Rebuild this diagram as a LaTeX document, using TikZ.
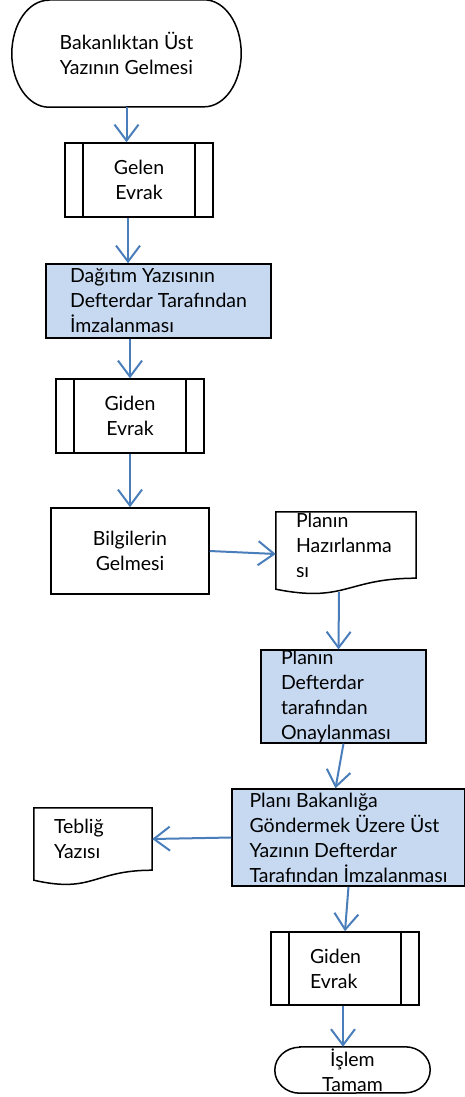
\documentclass[tikz,border=0pt]{standalone}
\usepackage{fontspec}
\setmainfont{Lato}
\usetikzlibrary{arrows.meta, calc}
\usepackage{xcolor}
\definecolor{stepblue}{RGB}{198,217,241}
\definecolor{linkblue}{RGB}{74,126,187}

\begin{document}
\begin{tikzpicture}[x=1pt, y=-1pt,
    every node/.style={font=\fontsize{19.5}{25}\selectfont, inner sep=0pt},
    box/.style={rectangle, draw, line width=1.5pt},
    bluebox/.style={box, fill=stepblue},
    predef/.style={box, path picture={
        \draw[line width=1.5pt]
          ([xshift=18pt]path picture bounding box.north west) -- ([xshift=18pt]path picture bounding box.south west)
          ([xshift=-18pt]path picture bounding box.north east) -- ([xshift=-18pt]path picture bounding box.south east);}},
    outline/.style={rectangle},
    link/.style={draw=linkblue, line width=2pt, -{Straight Barb[length=16pt, width=24pt]}}]
  \useasboundingbox (0,0) rectangle (465,1097);

  % nodes
  \node[outline, minimum width=229pt, minimum height=107pt, align=center] (start) at (126.5,53.5)
    {Bakanlıktan Üst\\Yazının Gelmesi};
  \node[predef, minimum width=148pt, minimum height=74pt, align=center] (gelen) at (139,180)
    {Gelen\\Evrak};
  \node[bluebox, minimum width=225pt, minimum height=74pt, align=left] (dagitim) at (158.5,301)
    {Dağıtım Yazısının\\Defterdar Tarafından\\İmzalanması};
  \node[predef, minimum width=148pt, minimum height=74pt, align=center] (gidenA) at (130,416)
    {Giden\\Evrak};
  \node[box, minimum width=158pt, minimum height=86pt, align=center] (bilgi) at (130,551)
    {Bilgilerin\\Gelmesi};
  \node[outline, minimum width=140pt, minimum height=66pt, text width=100pt, align=left] (plan) at (346,545)
    {Planın\\Hazırlanma\\sı};
  \node[bluebox, minimum width=165pt, minimum height=91pt, text width=125pt, align=left] (onay) at (343.5,696.5)
    {Planın\\Defterdar\\tarafından\\Onaylanması};
  \node[bluebox, minimum width=233pt, minimum height=97pt, align=left] (bakan) at (348.5,837.5)
    {Planı Bakanlığa\\Göndermek Üzere Üst\\Yazının Defterdar\\Tarafından İmzalanması};
  \node[outline, minimum width=118pt, minimum height=62pt, text width=78pt, align=left] (teblig) at (93,839)
    {Tebliğ\\Yazısı};
  \node[predef, minimum width=148pt, minimum height=73pt, text width=70pt, align=left] (gidenB) at (345,968.5)
    {Giden\\Evrak};
  \node[outline, minimum width=155pt, minimum height=46pt, align=center] (finish) at (352.5,1070)
    {İşlem\\Tamam};

  % terminator outlines
  \foreach \t/\r/\s in {start/37/53.5, finish/25/23} {
    \draw[line width=1.5pt] ([xshift=\r pt]\t.north west) -- ([xshift=-\r pt]\t.north east)
      arc[start angle=90, end angle=-90, x radius=\r pt, y radius=\s pt]
      -- ([xshift=\r pt]\t.south west)
      arc[start angle=270, end angle=90, x radius=\r pt, y radius=\s pt] -- cycle;
  }

  % document outlines
  \foreach \d/\c/\e in {plan/25/11, teblig/23.5/10} {
    \draw[line width=1.5pt] (\d.north west) -- (\d.north east) -- (\d.south east)
      .. controls (\d.south) and ($(\d.south)+(0,\c)$) .. ($(\d.south west)+(0,\e)$) -- cycle;
  }

  % connectors
  \draw[link] (start.south) -- (start.south |- gelen.north);
  \draw[link] ([xshift=-11pt]gelen.south) -- ([xshift=-11pt]gelen.south |- dagitim.north);
  \draw[link] (gidenA.north |- dagitim.south) -- (gidenA.north);
  \draw[link] (gidenA.south) -- (bilgi.north);
  \draw[link] (bilgi.east) -- ([yshift=-9pt]plan.west);
  \draw[link] ($(plan.south)+(-7,14)$) -- ([xshift=-5pt]onay.north);
  \draw[link] (onay.south) -- ([xshift=-13pt]bakan.north);
  \draw[link] (bakan.west) -- (teblig.east);
  \draw[link] (bakan.south) -- (gidenB.north);
  \draw[link] ([xshift=-2pt]gidenB.south) -- ([xshift=-2pt]gidenB.south |- finish.north);
\end{tikzpicture}
\end{document}
